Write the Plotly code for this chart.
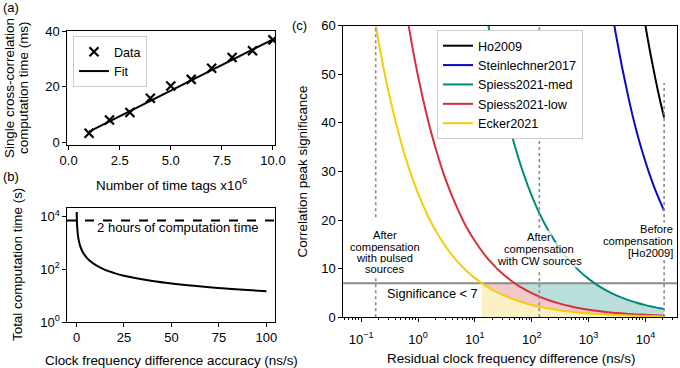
import numpy as np
import plotly.graph_objects as go

# ---------------- data ----------------
# (a) single cross-correlation computation time
tags_millions = [1, 2, 3, 4, 5, 6, 7, 8, 9, 10]
corr_time_ms = [3.2, 8.0, 10.7, 15.8, 20.2, 22.6, 26.6, 30.5, 32.9, 36.8]
fit_x = [1, 10]
fit_y = [3.8, 37.0]

# (b) total computation time vs accuracy
accuracy_ns_s = [0.1, 0.2, 0.3, 0.5, 0.75, 1, 1.5, 2, 3, 4, 5, 7, 10, 15, 20, 25,
                 30, 40, 50, 60, 70, 80, 90, 100]
total_time_s = [15000, 7500, 5000, 3000, 2000, 1500, 1000, 750, 500, 375, 300, 212,
                148, 96, 72, 57, 48, 36, 29, 24.3, 21, 18.3, 16.3, 14.7]
two_hours_s = 7200

# (c) correlation peak significance vs residual clock frequency difference
residual_ns_s = [0.15, 0.2, 0.3, 0.5, 0.7, 1, 1.5, 2, 3, 5, 7, 10, 15, 20, 30, 50, 70,
                 100, 150, 200, 300, 500, 700, 1000, 1500, 2000, 3000, 5000, 7000,
                 10000, 12000, 15000, 18000, 21300]
N = None
sig_ecker = [65.8, 57.0, 46.6, 36.1, 30.5, 25.5, 20.8, 18.0, 14.7, 11.4, 9.64,
             8.06, 6.58, 5.70, 4.66, 3.61, 3.05, 2.55, 2.08, 1.80, 1.47, 1.14, 0.96,
             0.81, 0.66, 0.57, 0.47, 0.36, 0.30, 0.26, 0.23, 0.21, 0.19, 0.17]
sig_spiess_low = [N, N, 90.6, 70.1, 59.3, 49.6, 40.5, 35.1, 28.6, 22.2, 18.7,
                  15.7, 12.8, 11.1, 9.06, 7.01, 5.93, 4.96, 4.05, 3.51, 2.86, 2.22, 1.87,
                  1.57, 1.28, 1.11, 0.91, 0.70, 0.59, 0.50, 0.45, 0.40, 0.37, 0.34]
sig_spiess_med = [N, N, N, N, N, N, N, N, N, N, 94.5,
                  79.1, 64.5, 55.9, 45.6, 35.4, 29.9, 25.0, 20.4, 17.7, 14.4, 11.2, 9.45,
                  7.91, 6.45, 5.59, 4.56, 3.54, 2.99, 2.50, 2.28, 2.04, 1.86, 1.71]
sig_steinlechner = [N] * 23 + [101, 82.6, 71.6, 58.4, 45.3, 38.2, 32.0, 29.2, 26.1, 23.9, 21.9]
sig_ho = [N] * 26 + [109.5, 84.9, 71.7, 60.0, 54.8, 49.0, 44.7, 41.1]
threshold = 7
ref_pulsed, ref_cw, ref_before = 0.18, 136, 21300

series_c = [
    ("Ho2009", sig_ho, "#000000"),
    ("Steinlechner2017", sig_steinlechner, "#0a0ac0"),
    ("Spiess2021-med", sig_spiess_med, "#008a7c"),
    ("Spiess2021-low", sig_spiess_low, "#d5303c"),
    ("Ecker2021", sig_ecker, "#f5cd0a"),
]

# ---------------- helpers ----------------
W, H = 680, 368
FONT = "Liberation Sans, Arial, sans-serif"
FS_TICK = 13
FS_LABEL = 13.4
FS_LEG = 12.6
FS_ANN = 11.2


def px(x):
    return x / W


def py(y):
    return 1 - y / H


d = np.array(residual_ns_s, dtype=float)


def arr(v):
    return np.array([np.nan if e is None else e for e in v], dtype=float)


def loglog(vals, x):
    v = arr(vals)
    m = ~np.isnan(v)
    return np.exp(np.interp(np.log(x), np.log(d[m]), np.log(v[m])))


def crossing(vals, level):
    v = arr(vals)
    m = ~np.isnan(v)
    ld, lv = np.log(d[m])[::-1], np.log(v[m])[::-1]
    return float(np.exp(np.interp(np.log(level), lv, ld)))


fig = go.Figure()

# ---------------- panel (a) ----------------
fig.add_trace(go.Scatter(x=tags_millions, y=corr_time_ms, mode="markers", name="Data",
                         marker=dict(symbol="x-thin", size=9, color="black",
                                     line=dict(width=2.2, color="black")),
                         xaxis="x", yaxis="y", legend="legend2"))
fig.add_trace(go.Scatter(x=fit_x, y=fit_y, mode="lines", name="Fit",
                         line=dict(color="black", width=2), xaxis="x", yaxis="y",
                         legend="legend2"))

# ---------------- panel (b) ----------------
fig.add_trace(go.Scatter(x=accuracy_ns_s, y=total_time_s, mode="lines", showlegend=False,
                         line=dict(color="black", width=2, shape="spline"),
                         xaxis="x2", yaxis="y2"))

# ---------------- panel (c) fills ----------------
d_y = crossing(sig_ecker, threshold)
d_r = crossing(sig_spiess_low, threshold)
d_t = crossing(sig_spiess_med, threshold)

xs_y = np.array([d_y] + [v for v in d if v > d_y])
fig.add_trace(go.Scatter(x=xs_y, y=np.minimum(loglog(sig_ecker, xs_y), threshold),
                         mode="lines", line=dict(width=0), fill="tozeroy",
                         fillcolor="#fbf1c4", showlegend=False, hoverinfo="skip",
                         xaxis="x3", yaxis="y3"))
xs_p = np.array(sorted([d_y, d_r] + [v for v in d if v > d_y]))
up_p = np.minimum(loglog(sig_spiess_low, xs_p), threshold)
lo_p = loglog(sig_ecker, xs_p)
fig.add_trace(go.Scatter(x=np.concatenate([xs_p, xs_p[::-1]]),
                         y=np.concatenate([up_p, lo_p[::-1]]),
                         mode="lines", line=dict(width=0), fill="toself",
                         fillcolor="#f2c8cb", showlegend=False, hoverinfo="skip",
                         xaxis="x3", yaxis="y3"))
xs_t = np.array(sorted([d_r, d_t] + [v for v in d if v > d_r]))
up_t = np.minimum(loglog(sig_spiess_med, xs_t), threshold)
lo_t = loglog(sig_spiess_low, xs_t)
fig.add_trace(go.Scatter(x=np.concatenate([xs_t, xs_t[::-1]]),
                         y=np.concatenate([up_t, lo_t[::-1]]),
                         mode="lines", line=dict(width=0), fill="toself",
                         fillcolor="#b9dedb", showlegend=False, hoverinfo="skip",
                         xaxis="x3", yaxis="y3"))

# threshold line
fig.add_trace(go.Scatter(x=[10 ** -1.32, 10 ** 4.56], y=[threshold, threshold], mode="lines",
                         line=dict(color="#8c8c8c", width=2), showlegend=False,
                         hoverinfo="skip", xaxis="x3", yaxis="y3"))

for name, vals, col in series_c:
    fig.add_trace(go.Scatter(x=residual_ns_s, y=vals, mode="lines", name=name,
                             line=dict(color=col, width=2, shape="spline"),
                             connectgaps=False, xaxis="x3", yaxis="y3", legend="legend"))

# dotted reference lines (segments broken where the labels sit)
dot = dict(color="#8a8a8a", width=1.6, dash="dot")
for xv, segs in [(ref_pulsed, [(0, 8.4), (20.6, 60)]),
                 (ref_cw, [(0, 9.6), (18.4, 60)]),
                 (ref_before, [(0, 12.0), (19.4, 48.2)])]:
    for y0, y1 in segs:
        fig.add_shape(type="line", x0=xv, x1=xv, y0=y0, y1=y1, xref="x3", yref="y3",
                      line=dot, layer="above")

# dashed 2-hour line in (b)
fig.add_shape(type="line", x0=0, x1=1, xref="x2 domain", y0=two_hours_s, y1=two_hours_s,
              yref="y2", line=dict(color="black", width=2, dash="dash"))

# ---------------- axes ----------------
axis_common = dict(showline=True, linecolor="black", linewidth=1.3, mirror=True,
                   ticks="outside", ticklen=3.5, tickwidth=1.2, tickcolor="black",
                   showgrid=False, zeroline=False, automargin=False,
                   tickfont=dict(family=FONT, size=FS_TICK, color="black"))

dom_ab_x = [px(67), px(275)]
minor_c = [m * 10 ** k for k in range(-2, 5) for m in range(2, 10)]

fig.update_layout(
    width=W, height=H, margin=dict(l=0, r=0, t=0, b=0, pad=0, autoexpand=False),
    paper_bgcolor="white", plot_bgcolor="white",
    font=dict(family=FONT, size=FS_TICK, color="black"),
    xaxis=dict(domain=dom_ab_x, range=[-0.08, 10.1], anchor="y",
               tickvals=[0, 2.5, 5, 7.5, 10], ticktext=["0.0", "2.5", "5.0", "7.5", "10.0"],
               **axis_common),
    yaxis=dict(domain=[py(145), py(31)], range=[-1, 40], anchor="x",
               tickvals=[0, 20, 40], **axis_common),
    xaxis2=dict(domain=dom_ab_x, range=[-5, 104.5], anchor="y2",
                tickvals=[0, 25, 50, 75, 100], **axis_common),
    yaxis2=dict(domain=[py(322), py(208)], type="log", range=[0, 4.33], anchor="x2",
                tickvals=[1, 100, 10000],
                ticktext=["10<sup>0</sup>", "10<sup>2</sup>", "10<sup>4</sup>"],
                **axis_common),
    xaxis3=dict(domain=[px(343), px(677)], type="log", range=[-1.32, 4.555], anchor="y3",
                tickvals=[0.1, 1, 10, 100, 1000, 10000],
                ticktext=["10<sup>\u22121</sup>", "10<sup>0</sup>", "10<sup>1</sup>",
                          "10<sup>2</sup>", "10<sup>3</sup>", "10<sup>4</sup>"],
                minor=dict(tickvals=minor_c, ticks="outside", ticklen=2, tickwidth=1,
                           tickcolor="black", showgrid=False),
                ticklabelstandoff=6,
                **axis_common),
    yaxis3=dict(domain=[py(317.3), py(25.7)], range=[0, 60], anchor="x3",
                tickvals=[0, 10, 20, 30, 40, 50, 60], **axis_common),
    legend=dict(x=px(437), y=py(30), xanchor="left", yanchor="top", itemwidth=30,
                bgcolor="white", bordercolor="#cccccc", borderwidth=1,
                font=dict(family=FONT, size=FS_LEG, color="black")),
    legend2=dict(x=px(73), y=py(36), xanchor="left", yanchor="top", itemwidth=30,
                 bgcolor="white", bordercolor="#cccccc", borderwidth=1,
                 font=dict(family=FONT, size=FS_LEG, color="black")),
    showlegend=True,
)

# ---------------- text ----------------
ann = []


def text(t, x, y, xanchor="center", size=FS_LABEL, angle=0, bg=None):
    a = dict(text=t, x=px(x), y=py(y), xref="paper", yref="paper", showarrow=False,
             xanchor=xanchor, yanchor="middle", textangle=angle,
             font=dict(family=FONT, size=size, color="black"), borderpad=0)
    if bg:
        a["bgcolor"] = bg
    ann.append(a)


text("(a)", 2, 8, xanchor="left", size=FS_TICK)
text("(b)", 2, 176, xanchor="left", size=FS_TICK)
text("(c)", 291, 25, xanchor="left", size=FS_TICK)

text("Single cross-correlation", 10, 88, angle=-90)
text("computation time (ms)", 24, 88, angle=-90)
text("Number of time tags x10<sup>6</sup>", 171, 184)
text("Total computation time (s)", 17, 265, angle=-90)
text("Clock frequency difference accuracy (ns/s)", 171, 360.5)
text("Correlation peak significance", 302, 171.5, angle=-90)
text("Residual clock frequency difference (ns/s)", 511, 358)

text("2 hours of computation time", 178, 227, size=13.1)
text("Significance < 7", 386, 293, xanchor="left", size=12.8)

BG = "rgba(255,255,255,0.75)"
for t, y in [("After", 235), ("compensation", 246.5), ("with pulsed", 257.7), ("sources", 269.2)]:
    text(t, 384.5, y, size=FS_ANN, bg=BG)
for t, y in [("After", 236.7), ("compensation", 248.5), ("with CW sources", 260.5)]:
    text(t, 539, y, size=FS_ANN, bg=BG)
for t, y in [("Before", 228.8), ("compensation", 240.5), ("[Ho2009]", 252.5)]:
    text(t, 674, y, xanchor="right", size=FS_ANN, bg=BG)

fig.update_layout(annotations=ann)

fig.write_html("out.html", config={"displayModeBar": False},
               post_script="document.body.style.margin='0px';"
                           "document.body.style.overflow='hidden';")
